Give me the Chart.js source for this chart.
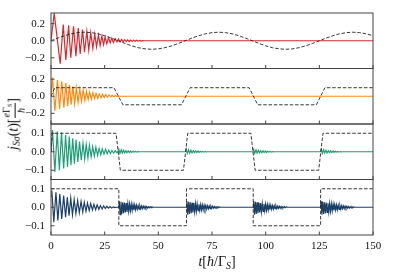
<!DOCTYPE html>
<html>
<head>
<meta charset="utf-8">
<script src="https://cdn.jsdelivr.net/npm/chart.js@4.4.1/dist/chart.umd.min.js"></script>
<style>
  html, body { margin: 0; padding: 0; background: #fff; }
  #wrap { position: relative; width: 415px; height: 277px; }
  .lab { position: absolute; font-family: 'Liberation Serif', serif; font-size: 14px; color: #111; white-space: nowrap; line-height: 1; }
  .lab sub { font-size: 70%; vertical-align: -0.25em; }
  #ylab { left: 14px; top: 124px; transform: translate(-50%, -50%) rotate(-90deg); }
  #xlab { left: 217px; top: 263px; transform: translate(-50%, -50%); }
  .frac { display: inline-flex; flex-direction: column; vertical-align: middle; font-size: 10px; text-align: center; }
  .frac .num { border-bottom: 0.8px solid #111; padding: 0 1px 1px; }
  .frac .den { padding-top: 1px; }
</style>
</head>
<body>
<div id="wrap">
  <canvas id="chart" width="415" height="277"></canvas>
  <div id="ylab" class="lab"><i>j</i><sub><i>Sσ</i></sub>(<i>t</i>)[<span class="frac"><span class="num"><i>e</i>Γ<sub><i>S</i></sub></span><span class="den"><i>ħ</i></span></span>]</div>
  <div id="xlab" class="lab"><i>t</i>[<i>ħ</i>/Γ<sub><i>S</i></sub>]</div>
</div>
<script>
// ticks
var xTicks = [0, 25, 50, 75, 100, 125, 150];
var yTicksWide = [-0.2, 0, 0.2];
var yTicksNarrow = [-0.1, 0, 0.1];

// panel 1 : driving field (dashed) and current (red)
var fieldT1 = [0, 3.1, 6.3, 9.4, 12.5, 15.6, 18.8, 21.9, 25, 28.1, 31.3, 34.4, 37.5, 40.6, 43.8, 46.9, 50, 53.1, 56.3, 59.4, 62.5, 65.6, 68.8, 71.9, 75, 78.1, 81.3, 84.4, 87.5, 90.6, 93.8, 96.9, 100, 103.1, 106.3, 109.4, 112.5, 115.6, 118.8, 121.9, 125, 128.1, 131.3, 134.4, 137.5, 140.6, 143.8, 146.9, 150];
var fieldY1 = [0, 0.031, 0.059, 0.081, 0.095, 0.1, 0.095, 0.081, 0.059, 0.031, 0, -0.031, -0.059, -0.081, -0.095, -0.1, -0.095, -0.081, -0.059, -0.031, 0, 0.031, 0.059, 0.081, 0.095, 0.1, 0.095, 0.081, 0.059, 0.031, 0, -0.031, -0.059, -0.081, -0.095, -0.1, -0.095, -0.081, -0.059, -0.031, 0, 0.031, 0.059, 0.081, 0.095, 0.1, 0.095, 0.081, 0.059];
var redT = [0, 1.5, 4.3, 5.7, 6.9, 8.2, 9.2, 10.5, 11.6, 12.7, 13.6, 14.7, 15.6, 16.7, 17.6, 18.5, 19.5, 20.4, 21.2, 22.1, 22.9, 23.7, 24.5, 25.2, 26.0, 26.8, 27.6, 28.3, 29.1, 29.9, 30.7, 31.4, 32.2, 32.9, 33.6, 34.3, 35.0, 35.7, 36.4, 37.1, 37.8, 38.5, 39.2, 39.9, 40.6, 41.3, 42.0, 42.7, 43.5, 150];
var redY = [0, 0.32, -0.27, 0.19, -0.225, 0.18, -0.2, 0.17, -0.18, 0.15, -0.155, 0.13, -0.135, 0.11, -0.11, 0.095, -0.09, 0.08, -0.07, 0.065, -0.055, 0.055, -0.045, 0.045, -0.035, 0.035, -0.025, 0.03, -0.02, 0.025, -0.015, 0.02, -0.012, 0.015, -0.012, 0.012, -0.01, 0.01, -0.009, 0.009, -0.007, 0.007, -0.006, 0.006, -0.005, 0.004, -0.003, 0.002, 0, 0];

// panel 2 : trapezoid field and current (orange)
var fieldT2 = [0, 1.8, 29.3, 33.5, 60.8, 64.8, 92.3, 96.3, 123.6, 127.6, 150];
var fieldY2 = [0, 0.1, 0.1, -0.1, -0.1, 0.1, 0.1, -0.1, -0.1, 0.1, 0.1];
var orangeT = [0, 0.7, 1.8, 3.0, 4.0, 5.0, 6.0, 6.9, 7.8, 8.6, 9.4, 10.2, 11.0, 11.8, 12.6, 13.4, 14.2, 15.0, 15.8, 16.5, 17.3, 18.0, 18.8, 19.5, 20.3, 21.0, 21.8, 22.5, 23.3, 24.0, 24.8, 25.5, 26.3, 27.0, 27.8, 28.5, 29.3, 30.0, 30.8, 31.5, 150];
var orangeY = [0.02, 0.22, -0.17, 0.19, -0.15, 0.175, -0.135, 0.155, -0.116, 0.135, -0.1, 0.115, -0.086, 0.1, -0.071, 0.083, -0.06, 0.071, -0.049, 0.06, -0.041, 0.049, -0.034, 0.041, -0.026, 0.034, -0.022, 0.026, -0.019, 0.022, -0.015, 0.019, -0.011, 0.015, -0.008, 0.011, -0.005, 0.008, -0.004, 0, 0];

// panel 3 : steep trapezoid field and current (green)
var fieldT3 = [0, 0.5, 30.3, 32.3, 61.7, 63.7, 93.1, 95.1, 124.7, 126.7, 150];
var fieldY3 = [0, 0.1, 0.1, -0.1, -0.1, 0.1, 0.1, -0.1, -0.1, 0.1, 0.1];
var greenT = [0, 0.7, 1.8, 2.9, 3.9, 4.9, 5.9, 6.8, 7.7, 8.5, 9.3, 10.1, 10.9, 11.7, 12.5, 13.3, 14.1, 14.9, 15.7, 16.4, 17.2, 17.9, 18.7, 19.4, 20.2, 20.9, 21.7, 22.4, 23.2, 23.9, 24.7, 25.4, 26.2, 26.9, 27.7, 28.4, 29.2, 29.9, 30.7];
var greenY = [0, 0.118, -0.109, 0.109, -0.1, 0.104, -0.091, 0.091, -0.082, 0.082, -0.073, 0.073, -0.064, 0.064, -0.055, 0.055, -0.046, 0.046, -0.038, 0.04, -0.033, 0.035, -0.027, 0.027, -0.024, 0.024, -0.02, 0.018, -0.016, 0.015, -0.013, 0.013, -0.011, 0.009, -0.009, 0.007, -0.007, 0.005, -0.005];
var greenSwitch = [31.2, 62.6, 94.0, 125.5];
var greenKickDt = [0, 0.4, 0.9, 1.5, 2.0, 2.6, 3.1, 3.7, 4.2, 4.8, 5.3, 5.9, 6.4, 7.0, 7.5, 8.1, 8.6, 9.2, 9.7, 10.3];
var greenKickY = [0, 0.013, -0.009, 0.01, -0.007, 0.008, -0.006, 0.006, -0.005, 0.005, -0.004, 0.004, -0.003, 0.003, -0.002, 0.002, -0.002, 0.001, -0.001, 0];

// panel 4 : square field and current (dark blue)
var fieldT4 = [0, 31.6, 31.6, 63.1, 63.1, 94.2, 94.2, 125.6, 125.6, 150];
var fieldY4 = [0.1, 0.1, -0.1, -0.1, 0.1, 0.1, -0.1, -0.1, 0.1, 0.1];
var blueT = [0, 0.4, 1.3, 2.3, 3.2, 4.1, 5.0, 5.9, 6.8, 7.6, 8.4, 9.2, 10.0, 10.8, 11.6, 12.4, 13.2, 14.0, 14.8, 15.5, 16.3, 17.0, 17.8, 18.5, 19.3, 20.0, 20.8, 21.5, 22.3, 23.0, 23.8, 24.5, 25.3, 26.0, 26.8, 27.5, 28.3, 29.0, 29.8, 30.5];
var blueY = [0.06, 0.09, -0.081, 0.081, -0.072, 0.072, -0.063, 0.063, -0.054, 0.054, -0.045, 0.049, -0.04, 0.041, -0.034, 0.036, -0.029, 0.031, -0.025, 0.027, -0.022, 0.023, -0.018, 0.02, -0.014, 0.016, -0.013, 0.013, -0.011, 0.009, -0.009, 0.007, -0.007, 0.005, -0.005, 0.004, -0.004, 0.002, -0.002, 0];
var blueSwitch = [31.6, 63.1, 94.2, 125.6];
var blueKickDt = [0, 0.2, 0.6, 1.0, 1.4, 1.8, 2.2, 2.6, 3.0, 3.4, 3.8, 4.2, 4.6, 5.0, 5.4, 5.8, 6.2, 6.6, 7.0, 7.4, 7.8, 8.2, 8.6, 9.0, 9.4, 9.8, 10.2, 10.6, 11.0, 11.4, 11.8, 12.2, 12.6, 13.0, 13.4, 13.8, 14.2, 14.6, 15.0, 15.4, 16.0];
var blueKickY = [0, 0.032, -0.04, 0.03, -0.036, 0.027, -0.032, 0.025, -0.028, 0.022, -0.025, 0.02, -0.022, 0.018, -0.019, 0.016, -0.017, 0.014, -0.015, 0.012, -0.013, 0.011, -0.011, 0.009, -0.01, 0.008, -0.008, 0.007, -0.007, 0.006, -0.006, 0.005, -0.005, 0.004, -0.004, 0.003, -0.003, 0.003, -0.002, 0.002, 0];

function pts(ts, ys) {
  return ts.map(function (t, i) { return { x: t, y: ys[i] }; });
}

// the same ringing shows up after every switch of the field
function kicked(ts, ys, starts, dts, kys) {
  var out = pts(ts, ys);
  starts.forEach(function (s) {
    dts.forEach(function (d, i) { out.push({ x: s + d, y: kys[i] }); });
  });
  out.push({ x: 150, y: 0 });
  return out;
}

var serif = { family: "'Liberation Serif', serif", size: 11 };

function fmt(v) {
  var s = Math.abs(v).toFixed(1);
  return v < 0 ? '\u2212' + s : s;
}

function yAxis(lim, ticks) {
  return {
    type: 'linear',
    position: 'left',
    stack: 'panels',
    stackWeight: 1,
    min: -lim,
    max: lim,
    afterBuildTicks: function (s) { s.ticks = ticks.map(function (v) { return { value: v }; }); },
    afterFit: function (s) { s.width = 51; },
    grid: { display: false, drawTicks: false },
    border: { display: false },
    ticks: { font: serif, color: '#111', padding: 6, callback: fmt }
  };
}

function curve(data, axis, color, width) {
  return { data: data, yAxisID: axis, borderColor: color, borderWidth: width, pointRadius: 0, order: 2 };
}

function dashed(data, axis) {
  return { data: data, yAxisID: axis, borderColor: '#222', borderWidth: 0.9, borderDash: [3.5, 1.8], pointRadius: 0, order: 1 };
}

var frame = {
  id: 'frame',
  afterDatasetsDraw: function (chart) {
    var ctx = chart.ctx, a = chart.chartArea, xs = chart.scales.x;
    ctx.save();
    ctx.strokeStyle = '#444';
    ctx.lineWidth = 1;
    ['y1', 'y2', 'y3', 'y4'].forEach(function (id) {
      var s = chart.scales[id];
      ctx.strokeRect(a.left, s.top, a.right - a.left, s.bottom - s.top);
      ctx.beginPath();
      s.ticks.forEach(function (t) {
        var y = s.getPixelForValue(t.value);
        ctx.moveTo(a.left, y);
        ctx.lineTo(a.left + 3.5, y);
      });
      xs.ticks.forEach(function (t) {
        var x = xs.getPixelForValue(t.value);
        ctx.moveTo(x, s.bottom);
        ctx.lineTo(x, s.bottom - 3.5);
      });
      ctx.stroke();
    });
    ctx.restore();
  }
};

new Chart(document.getElementById('chart'), {
  type: 'line',
  data: {
    datasets: [
      curve(pts(redT, redY), 'y1', '#d62a2f', 1.2),
      dashed(pts(fieldT1, fieldY1), 'y1'),
      curve(pts(orangeT, orangeY), 'y2', '#ff8a0d', 1.2),
      dashed(pts(fieldT2, fieldY2), 'y2'),
      curve(kicked(greenT, greenY, greenSwitch, greenKickDt, greenKickY), 'y3', '#1f9e77', 1.2),
      dashed(pts(fieldT3, fieldY3), 'y3'),
      curve(kicked(blueT, blueY, blueSwitch, blueKickDt, blueKickY), 'y4', '#1b3f66', 1.2),
      dashed(pts(fieldT4, fieldY4), 'y4')
    ]
  },
  options: {
    responsive: false,
    animation: false,
    events: [],
    layout: { padding: { left: 0, right: 42, top: 13, bottom: 0 } },
    plugins: { legend: { display: false }, tooltip: { enabled: false } },
    scales: {
      x: {
        type: 'linear',
        min: 0,
        max: 150,
        afterBuildTicks: function (s) { s.ticks = xTicks.map(function (v) { return { value: v }; }); },
        afterFit: function (s) { s.height = 42; },
        grid: { display: false, drawTicks: false },
        border: { display: false },
        ticks: { font: serif, color: '#111', padding: 5, maxRotation: 0 }
      },
      // left-stacked axes are laid out bottom-up, so the lowest panel comes first
      y4: yAxis(0.15, yTicksNarrow),
      y3: yAxis(0.15, yTicksNarrow),
      y2: yAxis(0.325, yTicksWide),
      y1: yAxis(0.325, yTicksWide)
    }
  },
  plugins: [frame]
});
</script>
</body>
</html>
